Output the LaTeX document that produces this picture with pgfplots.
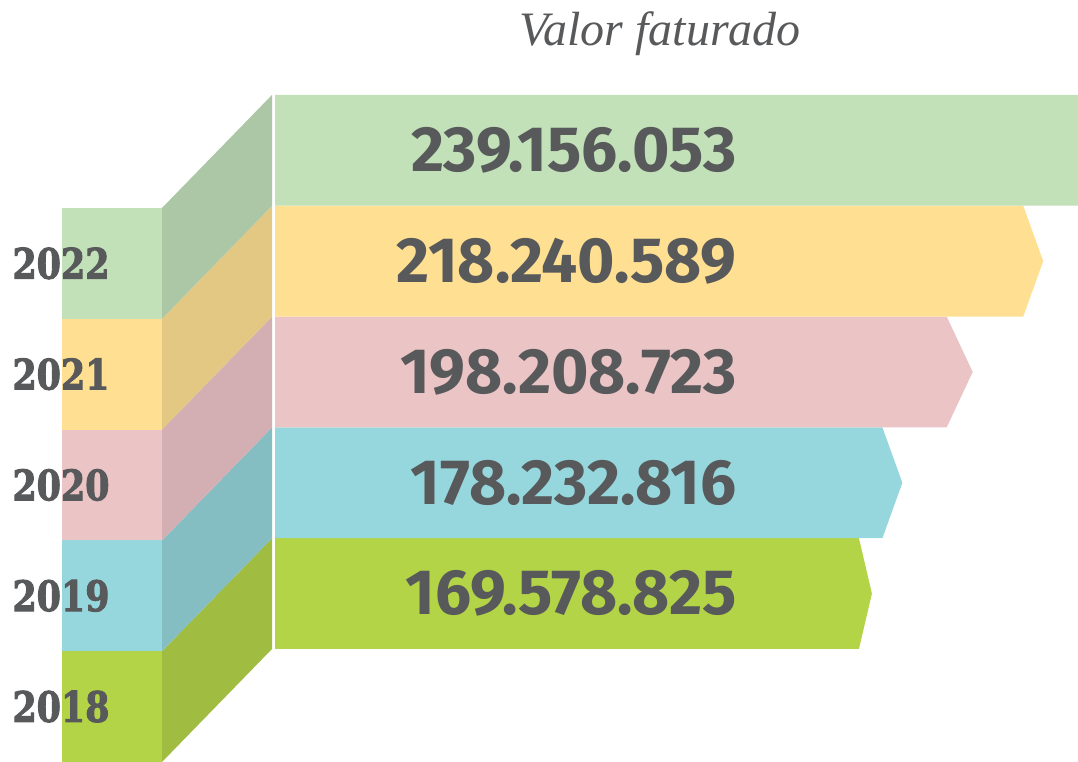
\documentclass[border=0pt]{standalone}
\usepackage{pgfplots}
\pgfplotsset{compat=1.18}
\usepackage{graphicx}
\usepackage{fontspec}
\newfontfamily\numfont{Fira Sans}
\newfontfamily\yearfont{DejaVu Serif}[BoldFeatures={FakeBold=2.5}]
\newfontfamily\titlefont{Liberation Serif}

\definecolor{txt}{HTML}{58595B}
\definecolor{gA}{HTML}{C2E1B9}\definecolor{gB}{HTML}{ABC7A5}
\definecolor{yA}{HTML}{FFE092}\definecolor{yB}{HTML}{E3C883}
\definecolor{pA}{HTML}{EBC4C5}\definecolor{pB}{HTML}{D3AEB2}
\definecolor{cA}{HTML}{96D7DE}\definecolor{cB}{HTML}{84BEC3}
\definecolor{lA}{HTML}{B4D447}\definecolor{lB}{HTML}{A0BC41}

\begin{document}
\begin{tikzpicture}
\begin{axis}[
    width=539pt, height=381pt, scale only axis,
    xmin=-78.125, xmax=228.125, ymin=0, ymax=6.877,
    hide axis,
  ]
  \path (rel axis cs:0,0) rectangle (rel axis cs:1,1);

  % year blocks (left)
  \addplot[draw=none,fill=lA] coordinates {(-60.6,0) (-32.1,0) (-32.1,1) (-60.6,1)};
  \addplot[draw=none,fill=cA] coordinates {(-60.6,1) (-32.1,1) (-32.1,2) (-60.6,2)};
  \addplot[draw=none,fill=pA] coordinates {(-60.6,2) (-32.1,2) (-32.1,3) (-60.6,3)};
  \addplot[draw=none,fill=yA] coordinates {(-60.6,3) (-32.1,3) (-32.1,4) (-60.6,4)};
  \addplot[draw=none,fill=gA] coordinates {(-60.6,4) (-32.1,4) (-32.1,5) (-60.6,5)};

  % slanted faces
  \addplot[draw=none,fill=lB] coordinates {(-32.1,0) (-0.85,1.02) (-0.85,2.02) (-32.1,1)};
  \addplot[draw=none,fill=cB] coordinates {(-32.1,1) (-0.85,2.02) (-0.85,3.02) (-32.1,2)};
  \addplot[draw=none,fill=pB] coordinates {(-32.1,2) (-0.85,3.02) (-0.85,4.02) (-32.1,3)};
  \addplot[draw=none,fill=yB] coordinates {(-32.1,3) (-0.85,4.02) (-0.85,5.02) (-32.1,4)};
  \addplot[draw=none,fill=gB] coordinates {(-32.1,4) (-0.85,5.02) (-0.85,6.02) (-32.1,5)};

  % arrow bars, tip at the value (millions)
  \addplot[draw=none,fill=lA] coordinates {(0,1.02) (165.89,1.02) (169.58,1.52) (165.89,2.02) (0,2.02)};
  \addplot[draw=none,fill=cA] coordinates {(0,2.02) (172.55,2.02) (178.23,2.52) (172.55,3.02) (0,3.02)};
  \addplot[draw=none,fill=pA] coordinates {(0,3.02) (190.82,3.02) (198.21,3.52) (190.82,4.02) (0,4.02)};
  \addplot[draw=none,fill=yA] coordinates {(0,4.02) (212.56,4.02) (218.24,4.52) (212.56,5.02) (0,5.02)};
  \addplot[draw=none,fill=gA] coordinates {(0,5.02) (233.48,5.02) (239.16,5.52) (233.48,6.02) (0,6.02)};

  % value labels
  \begin{scope}[every node/.style={anchor=east,text=txt,inner sep=0pt,
      font=\numfont\bfseries\fontsize{32}{34}\selectfont}]
    \node at (axis cs:131.25,1.52) {169.578.825};
    \node at (axis cs:131.25,2.52) {178.232.816};
    \node at (axis cs:131.25,3.52) {198.208.723};
    \node at (axis cs:131.25,4.52) {218.240.589};
    \node at (axis cs:131.25,5.52) {239.156.053};
  \end{scope}

  % year labels
  \begin{scope}[every node/.style={anchor=west,text=txt,inner sep=0pt,
      font=\yearfont\bfseries\fontsize{21}{23}\selectfont}]
    \node at (axis cs:-74.7,0.5) {\scalebox{0.83}[1]{2018}};
    \node at (axis cs:-74.7,1.5) {\scalebox{0.83}[1]{2019}};
    \node at (axis cs:-74.7,2.5) {\scalebox{0.83}[1]{2020}};
    \node at (axis cs:-74.7,3.5) {\scalebox{0.83}[1]{2021}};
    \node at (axis cs:-74.7,4.5) {\scalebox{0.83}[1]{2022}};
  \end{scope}

  \node[anchor=base,text=txt,inner sep=0pt,font=\titlefont\itshape\fontsize{24}{26}\selectfont]
    at (axis cs:109.4,6.47) {Valor faturado};
\end{axis}
\end{tikzpicture}
\end{document}
